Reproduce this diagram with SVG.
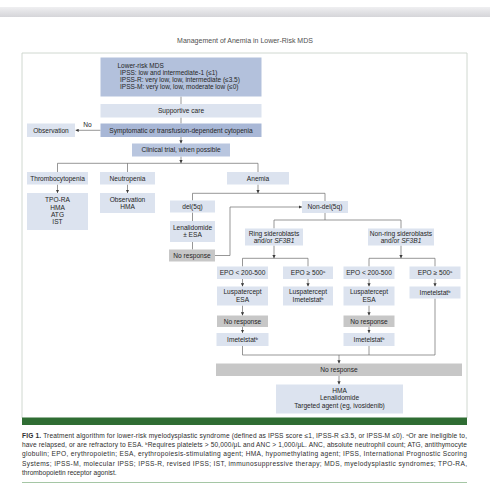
<svg xmlns="http://www.w3.org/2000/svg" width="490" height="500" viewBox="0 0 490 500">
<defs>
<linearGradient id="band" x1="0" y1="0" x2="0" y2="1"><stop offset="0" stop-color="#efeff1"/><stop offset="1" stop-color="#d5d5d9"/></linearGradient>
<marker id="arr" viewBox="0 0 6 6" refX="6" refY="3" markerWidth="3.2" markerHeight="3.2" markerUnits="userSpaceOnUse" orient="auto"><path d="M0,0 L6,3 L0,6 z" fill="#3a3a3a"/></marker>
<style>
text{font-family:"Liberation Sans",Arial,sans-serif;fill:#252525;}
.t{font-size:6.6px;text-anchor:middle;}
.tl{font-size:6.5px;}
.b{fill:#dce3ef;}
.g{fill:#c7c7c7;}
.m{fill:#b3c1dc;}
.d{fill:#a8b7d6;}
.c{fill:#b9c6df;}
.ln{fill:none;stroke:#6a6a6a;stroke-width:0.7;}
.cap{font-size:6.6px;fill:#2e2e2e;}
.sup{font-size:4px;}
</style>
</defs>
<rect width="490" height="500" fill="#ffffff"/>
<rect x="0" y="7" width="490" height="10" fill="url(#band)"/>
<text x="245" y="42.5" style="font-size:7px;text-anchor:middle;fill:#505050">Management of Anemia in Lower-Risk MDS</text>
<path d="M22,418 V53 H467 V418" fill="none" stroke="#cbd4cb" stroke-width="0.9"/>

<g id="connectors">
<path class="ln" d="M181,96.5 V104"/>
<path class="ln" d="M181,117.5 V123.5"/>
<path class="ln" d="M181,137 V143.5" marker-end="url(#arr)"/>
<path class="ln" d="M181,156.5 V163.3" marker-end="url(#arr)"/>
<path class="ln" d="M100.5,130.3 H75.5" marker-end="url(#arr)"/>
<path class="ln" d="M57.5,172 V163.3 H258 V172 M127.5,163.3 V172"/>
<path class="ln" d="M57.5,184.5 V193" marker-end="url(#arr)"/>
<path class="ln" d="M127.5,184.5 V193" marker-end="url(#arr)"/>
<path class="ln" d="M258,184.5 V193.3" marker-end="url(#arr)"/>
<path class="ln" d="M192.5,200.5 V193.3 H325 V201"/>
<path class="ln" d="M192.5,212.5 V221 M192.5,242 V249.5"/>
<path class="ln" d="M215,255.5 H230 V207 H302" marker-end="url(#arr)"/>
<path class="ln" d="M325,213 V220 M274,228.5 V220 H401 V228.5"/>
<path class="ln" d="M274,245.5 V258.3" marker-end="url(#arr)"/>
<path class="ln" d="M401,245.5 V258.3" marker-end="url(#arr)"/>
<path class="ln" d="M242.5,266.5 V258.3 H308 V266.5"/>
<path class="ln" d="M369,266.5 V258.3 H435 V266.5"/>
<path class="ln" d="M242.5,279 V286.5" marker-end="url(#arr)"/>
<path class="ln" d="M308,279 V286.5" marker-end="url(#arr)"/>
<path class="ln" d="M369,279 V286.5" marker-end="url(#arr)"/>
<path class="ln" d="M435,279 V286.5" marker-end="url(#arr)"/>
<path class="ln" d="M242.5,305.5 V315.5" marker-end="url(#arr)"/>
<path class="ln" d="M369,305.5 V315.5" marker-end="url(#arr)"/>
<path class="ln" d="M242.5,327 V333" marker-end="url(#arr)"/>
<path class="ln" d="M369,327 V333" marker-end="url(#arr)"/>
<path class="ln" d="M242.5,346 V355 H435 V298.5 M369,346 V355"/>
<path class="ln" d="M339,355 V363.5" marker-end="url(#arr)"/>
<path class="ln" d="M339,376 V384.5" marker-end="url(#arr)"/>
</g>

<g id="lowerrisk"><rect class="m" x="100.5" y="57.5" width="161" height="39"/>
<text class="tl" x="117.5" y="68">Lower-risk MDS</text>
<text class="tl" x="120" y="75">IPSS: low and intermediate-1 (≤1)</text>
<text class="tl" x="120" y="82">IPSS-R: very low, low, intermediate (≤3.5)</text>
<text class="tl" x="120" y="89">IPSS-M: very low, low, moderate low (≤0)</text></g>
<g id="supportive"><rect class="b" x="100.5" y="104" width="161" height="13.5"/><text class="t" x="181" y="113">Supportive care</text></g>
<g id="symptomatic"><rect class="d" x="100.5" y="123.5" width="161" height="13.5"/><text class="t" x="181" y="132.6">Symptomatic or transfusion-dependent cytopenia</text></g>
<g id="no-label"><text class="t" x="87.5" y="127">No</text></g>
<g id="observation"><rect class="b" x="27" y="123.5" width="48" height="13.5"/><text class="t" x="51" y="132.6">Observation</text></g>
<g id="clinical"><rect class="c" x="132" y="143.5" width="98" height="13"/><text class="t" x="181" y="152.4">Clinical trial, when possible</text></g>

<g id="thrombo"><rect class="b" x="27" y="172" width="61" height="12.5"/><text class="t" x="57.5" y="180.7">Thrombocytopenia</text></g>
<g id="neutro"><rect class="b" x="100" y="172" width="55" height="12.5"/><text class="t" x="127.5" y="180.7">Neutropenia</text></g>
<g id="anemia"><rect class="b" x="227" y="172" width="62" height="12.5"/><text class="t" x="258" y="180.7">Anemia</text></g>
<g id="tpo"><rect class="b" x="27" y="193" width="61" height="37"/>
<text class="t" x="57.5" y="202.3">TPO-RA</text><text class="t" x="57.5" y="209.6">HMA</text><text class="t" x="57.5" y="216.9">ATG</text><text class="t" x="57.5" y="224.2">IST</text></g>
<g id="obshma"><rect class="b" x="100" y="193" width="55" height="20"/>
<text class="t" x="127.5" y="201.8">Observation</text><text class="t" x="127.5" y="209">HMA</text></g>

<g id="del5q"><rect class="b" x="170" y="200.5" width="45" height="12"/><text class="t" x="192.5" y="208.9">del(5q)</text></g>
<g id="lenalidomide"><rect class="b" x="170" y="221" width="45" height="21"/>
<text class="t" x="192.5" y="229.8">Lenalidomide</text><text class="t" x="192.5" y="237.3">± ESA</text></g>
<g id="noresp1"><rect class="g" x="169" y="249.5" width="46" height="12"/><text class="t" x="192" y="258">No response</text></g>
<g id="nondel"><rect class="b" x="302" y="201" width="46" height="12"/><text class="t" x="325" y="209.4">Non-del(5q)</text></g>
<g id="ring"><rect class="b" x="245" y="228.5" width="58" height="17"/>
<text class="t" x="274" y="235.6">Ring sideroblasts</text><text class="t" x="274" y="242.8">and/or <tspan font-style="italic">SF3B1</tspan></text></g>
<g id="nonring"><rect class="b" x="368" y="228.5" width="66" height="17"/>
<text class="t" x="401" y="235.6">Non-ring sideroblasts</text><text class="t" x="401" y="242.8">and/or <tspan font-style="italic">SF3B1</tspan></text></g>

<g id="epo1"><rect class="b" x="217" y="266.5" width="51" height="12.5"/><text class="t" x="242.5" y="275.2">EPO &lt; 200-500</text></g>
<g id="epo2"><rect class="b" x="283" y="266.5" width="50" height="12.5"/><text class="t" x="308" y="275.2">EPO ≥ 500<tspan class="sup" baseline-shift="super">a</tspan></text></g>
<g id="epo3"><rect class="b" x="343.5" y="266.5" width="51" height="12.5"/><text class="t" x="369" y="275.2">EPO &lt; 200-500</text></g>
<g id="epo4"><rect class="b" x="409.5" y="266.5" width="51" height="12.5"/><text class="t" x="435" y="275.2">EPO ≥ 500<tspan class="sup" baseline-shift="super">a</tspan></text></g>

<g id="lusp1"><rect class="b" x="217" y="286.5" width="51" height="19"/>
<text class="t" x="242.5" y="294.2">Luspatercept</text><text class="t" x="242.5" y="301.6">ESA</text></g>
<g id="lusp2"><rect class="b" x="283" y="286.5" width="50" height="19"/>
<text class="t" x="308" y="294.2">Luspatercept</text><text class="t" x="308" y="301.6">Imetelstat<tspan class="sup" baseline-shift="super">b</tspan></text></g>
<g id="lusp3"><rect class="b" x="343.5" y="286.5" width="51" height="19"/>
<text class="t" x="369" y="294.2">Luspatercept</text><text class="t" x="369" y="301.6">ESA</text></g>
<g id="imet4"><rect class="b" x="409.5" y="286.5" width="51" height="12"/><text class="t" x="435" y="294.9">Imetelstat<tspan class="sup" baseline-shift="super">b</tspan></text></g>

<g id="noresp2"><rect class="g" x="217" y="315.5" width="51" height="11.5"/><text class="t" x="242.5" y="323.6">No response</text></g>
<g id="noresp3"><rect class="g" x="343.5" y="315.5" width="51" height="11.5"/><text class="t" x="369" y="323.6">No response</text></g>
<g id="imet1"><rect class="b" x="216.5" y="333" width="52" height="13"/><text class="t" x="242.5" y="341.8">Imetelstat<tspan class="sup" baseline-shift="super">b</tspan></text></g>
<g id="imet3"><rect class="b" x="343.5" y="333" width="51" height="13"/><text class="t" x="369" y="341.8">Imetelstat<tspan class="sup" baseline-shift="super">b</tspan></text></g>

<g id="noresp-all"><rect class="g" x="216" y="363.5" width="246" height="12.5"/><text class="t" x="339" y="372.1">No response</text></g>
<g id="hma"><rect class="b" x="276" y="384.5" width="127" height="29"/>
<text class="t" x="339.5" y="393">HMA</text><text class="t" x="339.5" y="400.3">Lenalidomide</text><text class="t" x="339.5" y="407.6">Targeted agent (eg, ivosidenib)</text></g>

<rect x="22" y="417.5" width="445" height="7.5" fill="#2f6d33"/>
<g id="caption">
<text class="cap" x="22" y="437.6" textLength="445" lengthAdjust="spacing"><tspan font-weight="bold">FIG 1.</tspan>  Treatment algorithm for lower-risk myelodysplastic syndrome (defined as IPSS score ≤1, IPSS-R ≤3.5, or IPSS-M ≤0). <tspan class="sup" baseline-shift="super">a</tspan>Or are ineligible to,</text>
<text class="cap" x="22" y="446.9" textLength="445" lengthAdjust="spacing">have relapsed, or are refractory to ESA. <tspan class="sup" baseline-shift="super">b</tspan>Requires platelets &gt; 50,000/μL and ANC &gt; 1,000/μL. ANC, absolute neutrophil count; ATG, antithymocyte</text>
<text class="cap" x="22" y="456.2" textLength="445" lengthAdjust="spacing">globulin; EPO, erythropoietin; ESA, erythropoiesis-stimulating agent; HMA, hypomethylating agent; IPSS, International Prognostic Scoring</text>
<text class="cap" x="22" y="465.5" textLength="445" lengthAdjust="spacing">Systems; IPSS-M, molecular IPSS; IPSS-R, revised IPSS; IST, immunosuppressive therapy; MDS, myelodysplastic syndromes; TPO-RA,</text>
<text class="cap" x="22" y="474.8">thrombopoietin receptor agonist.</text>
</g>
<path d="M22,482.5 H467" stroke="#a5c6a5" stroke-width="1"/>
</svg>
